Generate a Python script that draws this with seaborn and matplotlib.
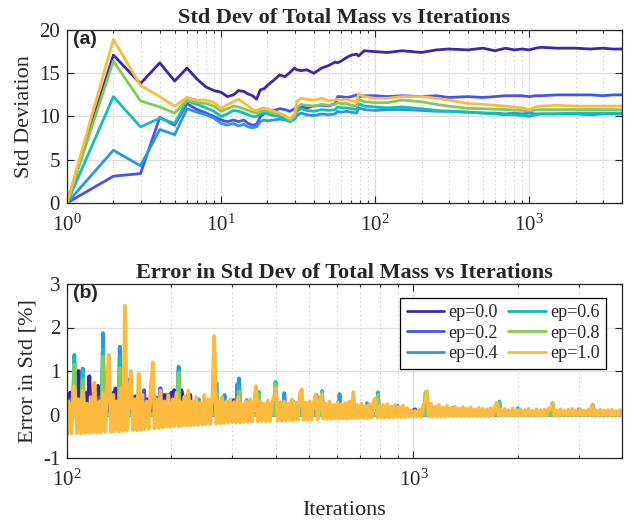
import numpy as np
import pandas as pd
import matplotlib
matplotlib.use("Agg")
import matplotlib.pyplot as plt
import seaborn as sns
from matplotlib.lines import Line2D
from matplotlib.ticker import LogLocator, NullFormatter, NullLocator, FixedLocator

# ---------------------------------------------------------------- data
ep_labels = ["ep=0.0", "ep=0.2", "ep=0.4", "ep=0.6", "ep=0.8", "ep=1.0"]
ep_colors = ["#3e26a8", "#4852f4", "#2796eb", "#12beb9", "#81cc59", "#fcbb3e"]

# (a) running standard deviation of the total mass
iters_std = [1, 2, 3, 4, 5, 6, 7, 8, 9, 10,
             11, 12, 13, 14, 15, 16, 17, 18, 19, 20,
             22, 24, 26, 28, 30, 31, 33, 36, 40, 45,
             50, 55, 57, 60, 65, 70, 76, 78, 85, 100,
             120, 150, 200, 250, 300, 400, 500, 600, 700, 800,
             900, 1000, 1100, 1200, 1500, 2000, 2500, 3000, 3500, 4000]

std_ep00 = [0.0, 17.1, 13.8, 16.2, 14.1, 15.6, 14.3, 13.4, 13.0, 12.8,
            12.3, 12.5, 13.0, 12.9, 12.6, 12.4, 12.0, 13.1, 13.2, 13.6,
            14.2, 14.8, 14.6, 15.1, 15.6, 15.4, 15.3, 15.4, 15.0, 15.6,
            15.9, 16.3, 16.2, 16.4, 16.8, 17.1, 17.2, 17.0, 17.6, 17.5,
            17.4, 17.6, 17.4, 17.7, 17.8, 17.7, 17.9, 17.6, 17.9, 17.7,
            17.8, 17.7, 17.9, 18.0, 17.9, 17.9, 17.8, 17.9, 17.8, 17.8]
std_ep02 = [0.0, 3.1, 3.4, 9.9, 9.0, 11.5, 10.8, 10.4, 10.0, 9.6,
            9.4, 9.6, 9.4, 9.6, 9.2, 9.0, 9.1, 10.0, 10.3, 10.6,
            10.7, 10.9, 10.8, 10.6, 10.9, 11.0, 11.1, 11.0, 11.2, 11.3,
            11.2, 11.5, 12.3, 12.3, 12.2, 12.3, 12.5, 12.3, 12.4, 12.4,
            12.3, 12.4, 12.3, 12.4, 12.2, 12.3, 12.2, 12.3, 12.4, 12.4,
            12.4, 12.3, 12.4, 12.4, 12.5, 12.5, 12.5, 12.4, 12.5, 12.5]
std_ep04 = [0.0, 6.1, 4.3, 8.5, 7.9, 10.9, 10.5, 10.2, 9.8, 9.2,
            9.0, 9.2, 8.9, 9.1, 8.8, 8.7, 8.8, 9.4, 9.6, 9.5,
            9.6, 9.7, 9.6, 9.5, 9.7, 10.1, 10.4, 10.2, 10.1, 10.3,
            10.2, 10.3, 10.6, 10.5, 10.6, 10.5, 10.4, 11.0, 10.8, 10.7,
            10.8, 10.8, 10.7, 10.6, 10.6, 10.5, 10.4, 10.4, 10.3, 10.4,
            10.3, 10.4, 10.3, 10.3, 10.3, 10.3, 10.2, 10.3, 10.3, 10.3]
std_ep06 = [0.0, 12.3, 8.8, 9.8, 9.2, 11.8, 11.4, 11.0, 10.6, 10.0,
            10.3, 10.7, 10.6, 10.4, 10.2, 10.0, 10.0, 10.3, 10.4, 10.3,
            10.1, 10.0, 9.7, 9.4, 9.7, 10.6, 10.9, 10.7, 10.6, 10.8,
            10.7, 10.8, 11.1, 11.0, 11.0, 10.9, 10.8, 11.5, 11.2, 11.1,
            11.0, 11.1, 10.9, 10.7, 10.6, 10.5, 10.4, 10.3, 10.2, 10.2,
            10.1, 10.0, 10.2, 10.3, 10.3, 10.4, 10.4, 10.4, 10.4, 10.4]
std_ep08 = [0.0, 16.4, 11.8, 11.1, 10.4, 11.9, 11.6, 11.5, 11.2, 10.6,
            10.9, 11.2, 11.1, 10.9, 10.7, 10.5, 10.4, 10.6, 10.7, 10.6,
            10.4, 10.3, 10.0, 9.6, 10.0, 11.0, 11.4, 11.3, 11.2, 11.4,
            11.3, 11.4, 11.6, 11.5, 11.5, 11.3, 11.2, 12.0, 11.7, 11.6,
            11.6, 11.9, 11.7, 11.4, 11.2, 10.95, 10.9, 10.85, 10.8, 10.75,
            10.7, 10.65, 10.75, 10.8, 10.8, 10.8, 10.8, 10.8, 10.8, 10.75]
std_ep10 = [0.0, 18.9, 13.6, 12.3, 11.2, 12.2, 11.9, 11.9, 11.6, 10.9,
            11.4, 11.7, 12.0, 11.6, 11.2, 10.8, 10.7, 10.9, 11.0, 10.9,
            10.6, 10.4, 10.1, 9.7, 10.3, 11.7, 12.1, 12.0, 11.9, 12.1,
            11.8, 11.9, 12.0, 11.9, 12.0, 11.8, 11.7, 12.6, 12.3, 12.1,
            12.1, 12.3, 12.3, 12.1, 11.9, 11.5, 11.4, 11.3, 11.2, 11.1,
            11.0, 10.8, 11.1, 11.2, 11.3, 11.2, 11.2, 11.2, 11.2, 11.2]

# (b) relative error of the std estimate [%], iterations 100..4000
# ep=1.0 is stored on a log-spaced iteration record (280 samples)
iters_err = np.unique(np.round(np.geomspace(100, 4000, 280)).astype(int))
err_ep10 = [-0.44, 0.30, -0.44, 0.45, 0.65, -0.43, 0.35, -0.43, 0.55, -0.42,
            0.25, -0.42, 0.40, -0.41, 0.73, -0.41, 0.30, -0.41, 0.50, -0.40,
            0.35, 1.37, -0.40, 0.45, -0.39, 0.30, -0.39, 0.60, -0.38, 2.50,
            -0.37, 0.40, 1.00, -0.36, 0.35, -0.36, 0.93, -0.35, 0.45, -0.34,
            0.30, -0.33, 0.50, 1.20, -0.32, 0.35, -0.31, 0.55, -0.30, 0.30,
            -0.28, 0.45, -0.28, 0.35, -0.27, 0.50, -0.27, 0.30, -0.26, 0.40,
            -0.25, 0.55, -0.25, 0.30, -0.24, 0.40, -0.24, 0.28, -0.23, 0.45,
            -0.22, 0.35, -0.22, 0.45, 1.80, -0.21, 0.30, -0.20, 0.40, -0.20,
            0.30, -0.19, 0.35, -0.18, 0.28, -0.18, 0.40, -0.18, 0.25, -0.17,
            0.30, -0.17, 0.35, -0.16, 0.28, 0.65, -0.16, 0.30, -0.15, 0.25,
            -0.15, 0.32, -0.15, 0.25, 0.40, 0.60, -0.14, 0.28, -0.14, 0.30,
            -0.13, 0.25, -0.13, 0.35, -0.13, 0.28, -0.12, 0.47, 0.58, -0.12,
            0.28, -0.11, 0.30, -0.11, 0.25, 0.45, -0.11, 0.30, 0.45, -0.10,
            0.25, -0.10, 0.30, -0.10, 0.22, -0.09, 0.28, -0.09, 0.24, -0.09,
            0.26, -0.09, 0.30, -0.08, 0.52, -0.08, 0.22, -0.08, 0.25, -0.08,
            0.20, -0.08, 0.24, -0.07, 0.28, 0.37, -0.07, 0.20, -0.07, 0.22,
            -0.07, 0.24, -0.07, 0.18, -0.06, 0.22, -0.06, 0.18, -0.06, 0.20,
            -0.06, 0.15, -0.05, 0.10, -0.05, 0.08, -0.05, 0.12, -0.05, 0.20,
            0.30, 0.53, -0.05, 0.25, -0.05, 0.18, -0.05, 0.22, -0.05, 0.16,
            -0.05, 0.20, -0.04, 0.15, -0.04, 0.18, -0.04, 0.14, -0.04, 0.17,
            -0.04, 0.14, -0.04, 0.16, -0.04, 0.12, -0.04, 0.15, -0.04, 0.13,
            -0.04, 0.12, -0.04, 0.14, -0.03, 0.16, 0.27, -0.03, 0.11, -0.03,
            0.13, -0.03, 0.10, -0.03, 0.14, -0.03, 0.11, -0.03, 0.12, -0.03,
            0.10, -0.03, 0.13, -0.03, 0.09, -0.03, 0.12, -0.03, 0.10, -0.03,
            0.11, -0.03, 0.13, 0.15, 0.24, -0.03, 0.10, -0.03, 0.12, -0.02,
            0.09, -0.02, 0.11, -0.02, 0.13, -0.02, 0.10, -0.02, 0.12, -0.02,
            0.09, -0.02, 0.11, -0.02, 0.20, -0.02, 0.10, -0.02, 0.11, -0.02,
            0.09, -0.02, 0.10, -0.02, 0.11, -0.02, 0.08, -0.02, 0.10, -0.02]

# the other runs as (iteration, error) records around their excursions
err_ep00 = [(100, 0.45), (101, 0.20), (102, 0.50), (103, 0.30), (104, 0.48),
            (105, 0.00), (107, 0.00), (108, 1.00), (109, 0.00), (110, 0.00),
            (111, 0.55), (112, 0.30), (113, 0.50), (114, 0.00), (115, 0.00),
            (116, 0.88), (117, 0.00), (119, 0.00), (120, 0.50), (121, 0.30),
            (122, 0.55), (123, 0.66), (124, 0.30), (125, 0.45), (126, 0.00),
            (129, 0.00), (130, 0.42), (131, 0.00), (135, 0.00), (136, 0.50),
            (137, 0.35), (138, 0.60), (139, 0.40), (140, 0.55), (141, 0.00),
            (149, 0.00), (150, 0.80), (151, 0.00), (153, 0.00), (154, 0.42),
            (155, 0.30), (156, 0.40), (157, 0.25), (158, 0.42), (159, 0.30),
            (160, 0.42), (161, 0.00), (169, 0.00), (170, 0.35), (171, 0.00),
            (177, 0.00), (178, 0.35), (180, 0.30), (182, 0.38), (183, 0.00),
            (185, 0.00), (186, 0.60), (187, 0.00), (190, 0.00), (191, 0.45),
            (193, 0.30), (195, 0.45), (196, 0.00), (199, 0.00), (200, 0.50),
            (202, 0.35), (204, 0.56), (205, 0.00), (211, 0.00), (212, 0.50),
            (214, 0.56), (216, 0.40), (217, 0.00), (222, 0.00), (223, 0.45),
            (225, 0.30), (227, 0.45), (228, 0.00), (235, 0.00), (236, 0.30),
            (237, 0.00), (253, 0.00), (255, 0.28), (257, 0.00), (288, 0.00),
            (290, 0.25), (292, 0.00), (301, 0.00), (302, 0.33), (305, 0.25),
            (308, 0.33), (310, 0.00), (338, 0.00), (340, 0.20), (342, 0.00),
            (990, 0.00), (1000, 0.10), (1015, 0.10), (1025, 0.00), (4000, 0.00)]
err_ep02 = [(100, -0.30), (101, 0.00), (102, 0.35), (103, 0.00), (105, 0.00),
            (106, 0.40), (107, 0.00), (110, 0.00), (111, 1.05), (112, 0.00),
            (123, 0.00), (124, 0.40), (125, 0.00), (132, 0.00), (133, 0.30),
            (134, 0.00), (141, 0.00), (142, 0.35), (143, 0.00), (151, 0.00),
            (152, 0.30), (153, 0.00), (166, 0.00), (167, 0.56), (168, 0.00),
            (185, 0.00), (186, 0.60), (187, 0.00), (195, 0.00), (196, 0.40),
            (197, 0.00), (205, 0.00), (206, 0.45), (207, 0.00), (219, 0.00),
            (220, 0.35), (221, 0.00), (261, 0.00), (262, 0.25), (263, 0.00),
            (289, 0.00), (290, 0.28), (291, 0.00), (305, 0.00), (306, 0.33),
            (308, 0.00), (328, 0.00), (330, 0.25), (332, 0.00), (1000, 0.00),
            (1010, 0.12), (1020, 0.00), (4000, 0.00)]
err_ep04 = [(100, -0.45), (104, 0.00), (105, 1.20), (106, 0.00), (110, 0.00),
            (111, 1.05), (112, 0.00), (117, 0.00), (118, 0.35), (119, 0.00),
            (126, 0.00), (127, 1.87), (128, 0.00), (141, 0.00), (142, 1.56),
            (143, 0.00), (159, 0.00), (160, 0.30), (161, 0.00), (179, 0.00),
            (180, 0.40), (181, 0.00), (209, 0.00), (210, 1.10), (211, 0.00),
            (239, 0.00), (240, 0.35), (241, 0.00), (268, 0.00), (270, 0.72),
            (272, 0.00), (284, 0.00), (285, 0.45), (286, 0.00), (308, 0.00),
            (310, 0.70), (312, 0.20), (314, 0.83), (316, 0.00), (328, 0.00),
            (330, 0.33), (332, 0.00), (358, 0.00), (360, 0.30), (362, 0.00),
            (421, 0.00), (424, 0.49), (427, 0.00), (467, 0.00), (470, 0.30),
            (473, 0.00), (522, 0.00), (525, 0.45), (528, 0.00), (542, 0.00),
            (545, 0.45), (548, 0.00), (608, 0.00), (612, 0.47), (616, 0.00),
            (730, 0.00), (735, 0.26), (740, 0.00), (785, 0.00), (790, 0.45),
            (795, 0.00), (893, 0.00), (900, 0.20), (907, 0.00), (1078, 0.00),
            (1085, 0.45), (1092, 0.00), (1290, 0.00), (1300, 0.15), (1310, 0.00),
            (1755, 0.00), (1770, 0.27), (1785, 0.00), (1985, 0.00), (2000, 0.12),
            (2015, 0.00), (2500, 0.00), (2520, 0.22), (2540, 0.00), (2975, 0.00),
            (3000, 0.10), (3025, 0.00), (3265, 0.00), (3290, 0.18), (3315, 0.00),
            (4000, 0.00)]
err_ep06 = [(100, -0.42), (104, 0.00), (105, 1.37), (106, 0.00), (110, 0.00),
            (111, 1.00), (112, 0.00), (117, 0.00), (118, 0.30), (119, 0.00),
            (126, 0.00), (127, 1.49), (128, 0.00), (141, 0.00), (142, 1.33),
            (143, 0.00), (145, 0.00), (146, 0.60), (147, 0.00), (159, 0.00),
            (160, 0.30), (161, 0.00), (179, 0.00), (180, 0.35), (181, 0.00),
            (209, 0.00), (210, 1.00), (211, 0.00), (239, 0.00), (240, 0.30),
            (241, 0.00), (268, 0.00), (270, 0.60), (272, 0.00), (312, 0.00),
            (314, 0.65), (316, 0.00), (356, 0.00), (358, 0.52), (360, 0.00),
            (397, 0.00), (400, 0.75), (403, 0.00), (447, 0.00), (450, 0.30),
            (453, 0.00), (542, 0.00), (545, 0.54), (548, 0.00), (645, 0.00),
            (650, 0.25), (655, 0.00), (785, 0.00), (790, 0.51), (795, 0.00),
            (893, 0.00), (900, 0.15), (907, 0.00), (1078, 0.00), (1085, 0.50),
            (1092, 0.00), (1290, 0.00), (1300, 0.15), (1310, 0.00), (1755, 0.00),
            (1770, 0.30), (1785, 0.00), (1985, 0.00), (2000, 0.15), (2015, 0.00),
            (2500, 0.00), (2520, 0.26), (2540, 0.00), (2975, 0.00), (3000, 0.12),
            (3025, 0.00), (3265, 0.00), (3290, 0.22), (3315, 0.00), (4000, 0.00)]
err_ep08 = [(100, -0.40), (104, 0.00), (105, 1.15), (106, 0.00), (110, 0.00),
            (111, 0.80), (112, 0.00), (126, 0.00), (127, 1.33), (128, 0.00),
            (141, 0.00), (142, 1.06), (143, 0.00), (159, 0.00), (160, 0.25),
            (161, 0.00), (179, 0.00), (180, 0.30), (181, 0.00), (209, 0.00),
            (210, 0.95), (211, 0.00), (268, 0.00), (270, 0.50), (272, 0.00),
            (312, 0.00), (314, 0.53), (316, 0.00), (356, 0.00), (358, 0.45),
            (360, 0.00), (397, 0.00), (400, 0.70), (403, 0.00), (542, 0.00),
            (545, 0.50), (548, 0.00), (645, 0.00), (650, 0.22), (655, 0.00),
            (785, 0.00), (790, 0.45), (795, 0.00), (1078, 0.00), (1085, 0.52),
            (1092, 0.00), (1755, 0.00), (1770, 0.28), (1785, 0.00), (2500, 0.00),
            (2520, 0.25), (2540, 0.00), (3265, 0.00), (3290, 0.20), (3315, 0.00),
            (4000, 0.00)]

# ---------------------------------------------------------------- frames
std_runs = [std_ep00, std_ep02, std_ep04, std_ep06, std_ep08, std_ep10]
df_std = pd.concat(
    [pd.DataFrame({"Iterations": iters_std, "value": vals, "ep": lab})
     for lab, vals in zip(ep_labels, std_runs)],
    ignore_index=True)

err_records = [err_ep00, err_ep02, err_ep04, err_ep06, err_ep08]
err_frames = []
for lab, rec in zip(ep_labels[:5], err_records):
    it, val = zip(*rec)
    err_frames.append(pd.DataFrame({"Iterations": it, "value": val, "ep": lab}))
err_frames.append(pd.DataFrame({"Iterations": iters_err, "value": err_ep10,
                                "ep": ep_labels[5]}))
df_err = pd.concat(err_frames, ignore_index=True)

# ---------------------------------------------------------------- style
sns.set_style("ticks")
plt.rcParams["font.family"] = ["Liberation Serif", "DejaVu Serif"]
plt.rcParams["axes.unicode_minus"] = False
plt.rcParams["lines.solid_joinstyle"] = "round"

AX_GRAY = "#262626"

fig = plt.figure(figsize=(6.35, 5.23), dpi=100)
ax1 = fig.add_axes([67 / 635, 1 - 203 / 523, 555 / 635, 173 / 523])
ax2 = fig.add_axes([67 / 635, 1 - 458 / 523, 555 / 635, 174 / 523])

sns.lineplot(data=df_std, x="Iterations", y="value", hue="ep",
             hue_order=ep_labels, palette=ep_colors, estimator=None,
             linewidth=2.0, legend=False, ax=ax1)
sns.lineplot(data=df_err, x="Iterations", y="value", hue="ep",
             hue_order=ep_labels, palette=ep_colors, estimator=None,
             linewidth=2.7, legend=False, ax=ax2)

for ax in (ax1, ax2):
    ax.set_xscale("log")
    ax.xaxis.set_major_locator(LogLocator(base=10, numticks=10))
    ax.xaxis.set_minor_locator(LogLocator(base=10, subs=np.arange(2, 10), numticks=50))
    ax.xaxis.set_minor_formatter(NullFormatter())
    ax.yaxis.set_minor_locator(NullLocator())
    ax.grid(True, which="major", color="#dedede", linewidth=0.9, linestyle="-")
    ax.grid(True, which="minor", axis="x", color="#c4c4c4", linewidth=0.8,
            linestyle=(0, (1, 3)))
    ax.set_axisbelow(True)
    ax.tick_params(which="both", direction="in", top=True, right=True,
                   color=AX_GRAY, labelcolor=AX_GRAY, labelsize=15, width=0.8)
    ax.tick_params(which="major", length=5)
    ax.tick_params(which="minor", length=2.5)
    ax.tick_params(axis="x", which="major", pad=8.5)
    ax.tick_params(axis="y", which="major", pad=5)
    for s in ax.spines.values():
        s.set_color(AX_GRAY)
        s.set_linewidth(0.9)

ax1.set_xlim(1, 4000)
ax1.set_ylim(0, 20)
ax1.yaxis.set_major_locator(FixedLocator([0, 5, 10, 15, 20]))
ax1.set_xlabel("")
ax1.set_ylabel("Std Deviation", fontsize=16, color=AX_GRAY, labelpad=4)
ax1.set_title("Std Dev of Total Mass vs Iterations", fontsize=16,
              fontweight="bold", pad=5)
ax1.text(0.01, 0.995, "(a)", transform=ax1.transAxes, ha="left", va="top",
         fontsize=14, fontweight="bold", family=["Liberation Sans", "DejaVu Sans"])

ax2.set_xlim(100, 4000)
ax2.set_ylim(-1, 3)
ax2.yaxis.set_major_locator(FixedLocator([-1, 0, 1, 2, 3]))
ax2.set_xlabel("Iterations", fontsize=16, color=AX_GRAY, labelpad=7)
ax2.set_ylabel("Error in Std [%]", fontsize=16, color=AX_GRAY, labelpad=4)
ax2.set_title("Error in Std Dev of Total Mass vs Iterations", fontsize=16,
              fontweight="bold", pad=4)
ax2.text(0.01, 0.995, "(b)", transform=ax2.transAxes, ha="left", va="top",
         fontsize=14, fontweight="bold", family=["Liberation Sans", "DejaVu Sans"])

handles = [Line2D([], [], color=c, linewidth=2.0) for c in ep_colors]
leg = ax2.legend(handles, ep_labels, ncol=2, loc="upper right",
                 bbox_to_anchor=(0.971, 0.921), fontsize=13, frameon=True,
                 fancybox=False, framealpha=1, edgecolor="#000000",
                 handlelength=2.1, handletextpad=0.2, columnspacing=0.6,
                 labelspacing=0.2, borderpad=0.35, borderaxespad=0.0)
leg.get_frame().set_linewidth(0.9)

fig.savefig("out.png", dpi=100)
